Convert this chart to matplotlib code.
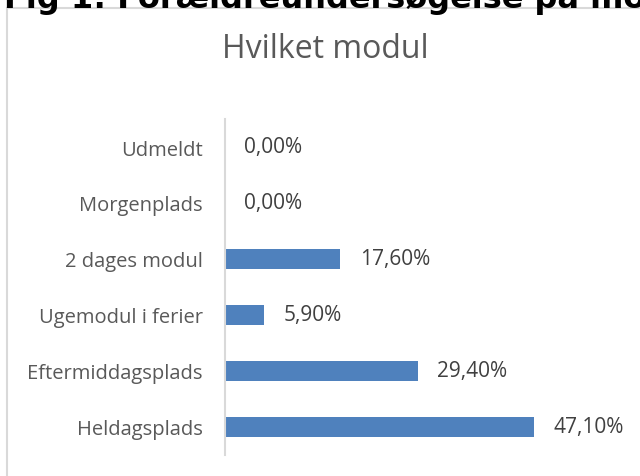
import matplotlib.pyplot as plt
from matplotlib.patches import Rectangle

categories = ['Heldagsplads', 'Eftermiddagsplads', 'Ugemodul i ferier',
              '2 dages modul', 'Morgenplads', 'Udmeldt']
values = [47.1, 29.4, 5.9, 17.6, 0.0, 0.0]
labels = ['47,10%', '29,40%', '5,90%', '17,60%', '0,00%', '0,00%']

plt.rcParams['font.family'] = ['Open Sans', 'DejaVu Sans']

fig = plt.figure(figsize=(6.4, 4.77), dpi=100)
W, H = 640, 477

# outer chart border (partly out of view)
fig.patches.append(Rectangle((7 / W, -0.1), 1.2, 1 - 9 / H + 0.1,
                             transform=fig.transFigure, fill=False,
                             edgecolor='#d9d9d9', linewidth=1.5))

# cut-off heading above the chart
fig.text(4 / W, 1 - 8 / H, 'Fig 1: Forældreundersøgelse på modul',
         fontsize=23, fontweight='bold', family='DejaVu Sans',
         ha='left', va='baseline', color='black')

ax = fig.add_axes([225 / W, (H - 456) / H, 328 / W, 336 / H])
bars = ax.barh(range(len(categories)), values, height=0.37, color='#4f81bd')
ax.set_xlim(0, 50)
ax.set_ylim(-0.5, len(categories) - 0.5)
ax.set_yticks(range(len(categories)))
ax.set_yticklabels(categories, fontsize=14.5, color='#595959')
ax.tick_params(axis='y', length=0, pad=16)
ax.set_xticks([])
for s in ['top', 'right', 'bottom']:
    ax.spines[s].set_visible(False)
ax.spines['left'].set_color('#d9d9d9')
ax.spines['left'].set_linewidth(1.5)
ax.patch.set_alpha(0)

for i, (v, lab) in enumerate(zip(values, labels)):
    ax.annotate(lab, (v, i), xytext=(14, 0), textcoords='offset points',
                ha='left', va='center', fontsize=15, color='#404040')

fig.text(325 / W, 1 - 49 / H, 'Hvilket modul', fontsize=23,
         color='#595959', ha='center', va='center')

fig.savefig('out.png', dpi=100)
